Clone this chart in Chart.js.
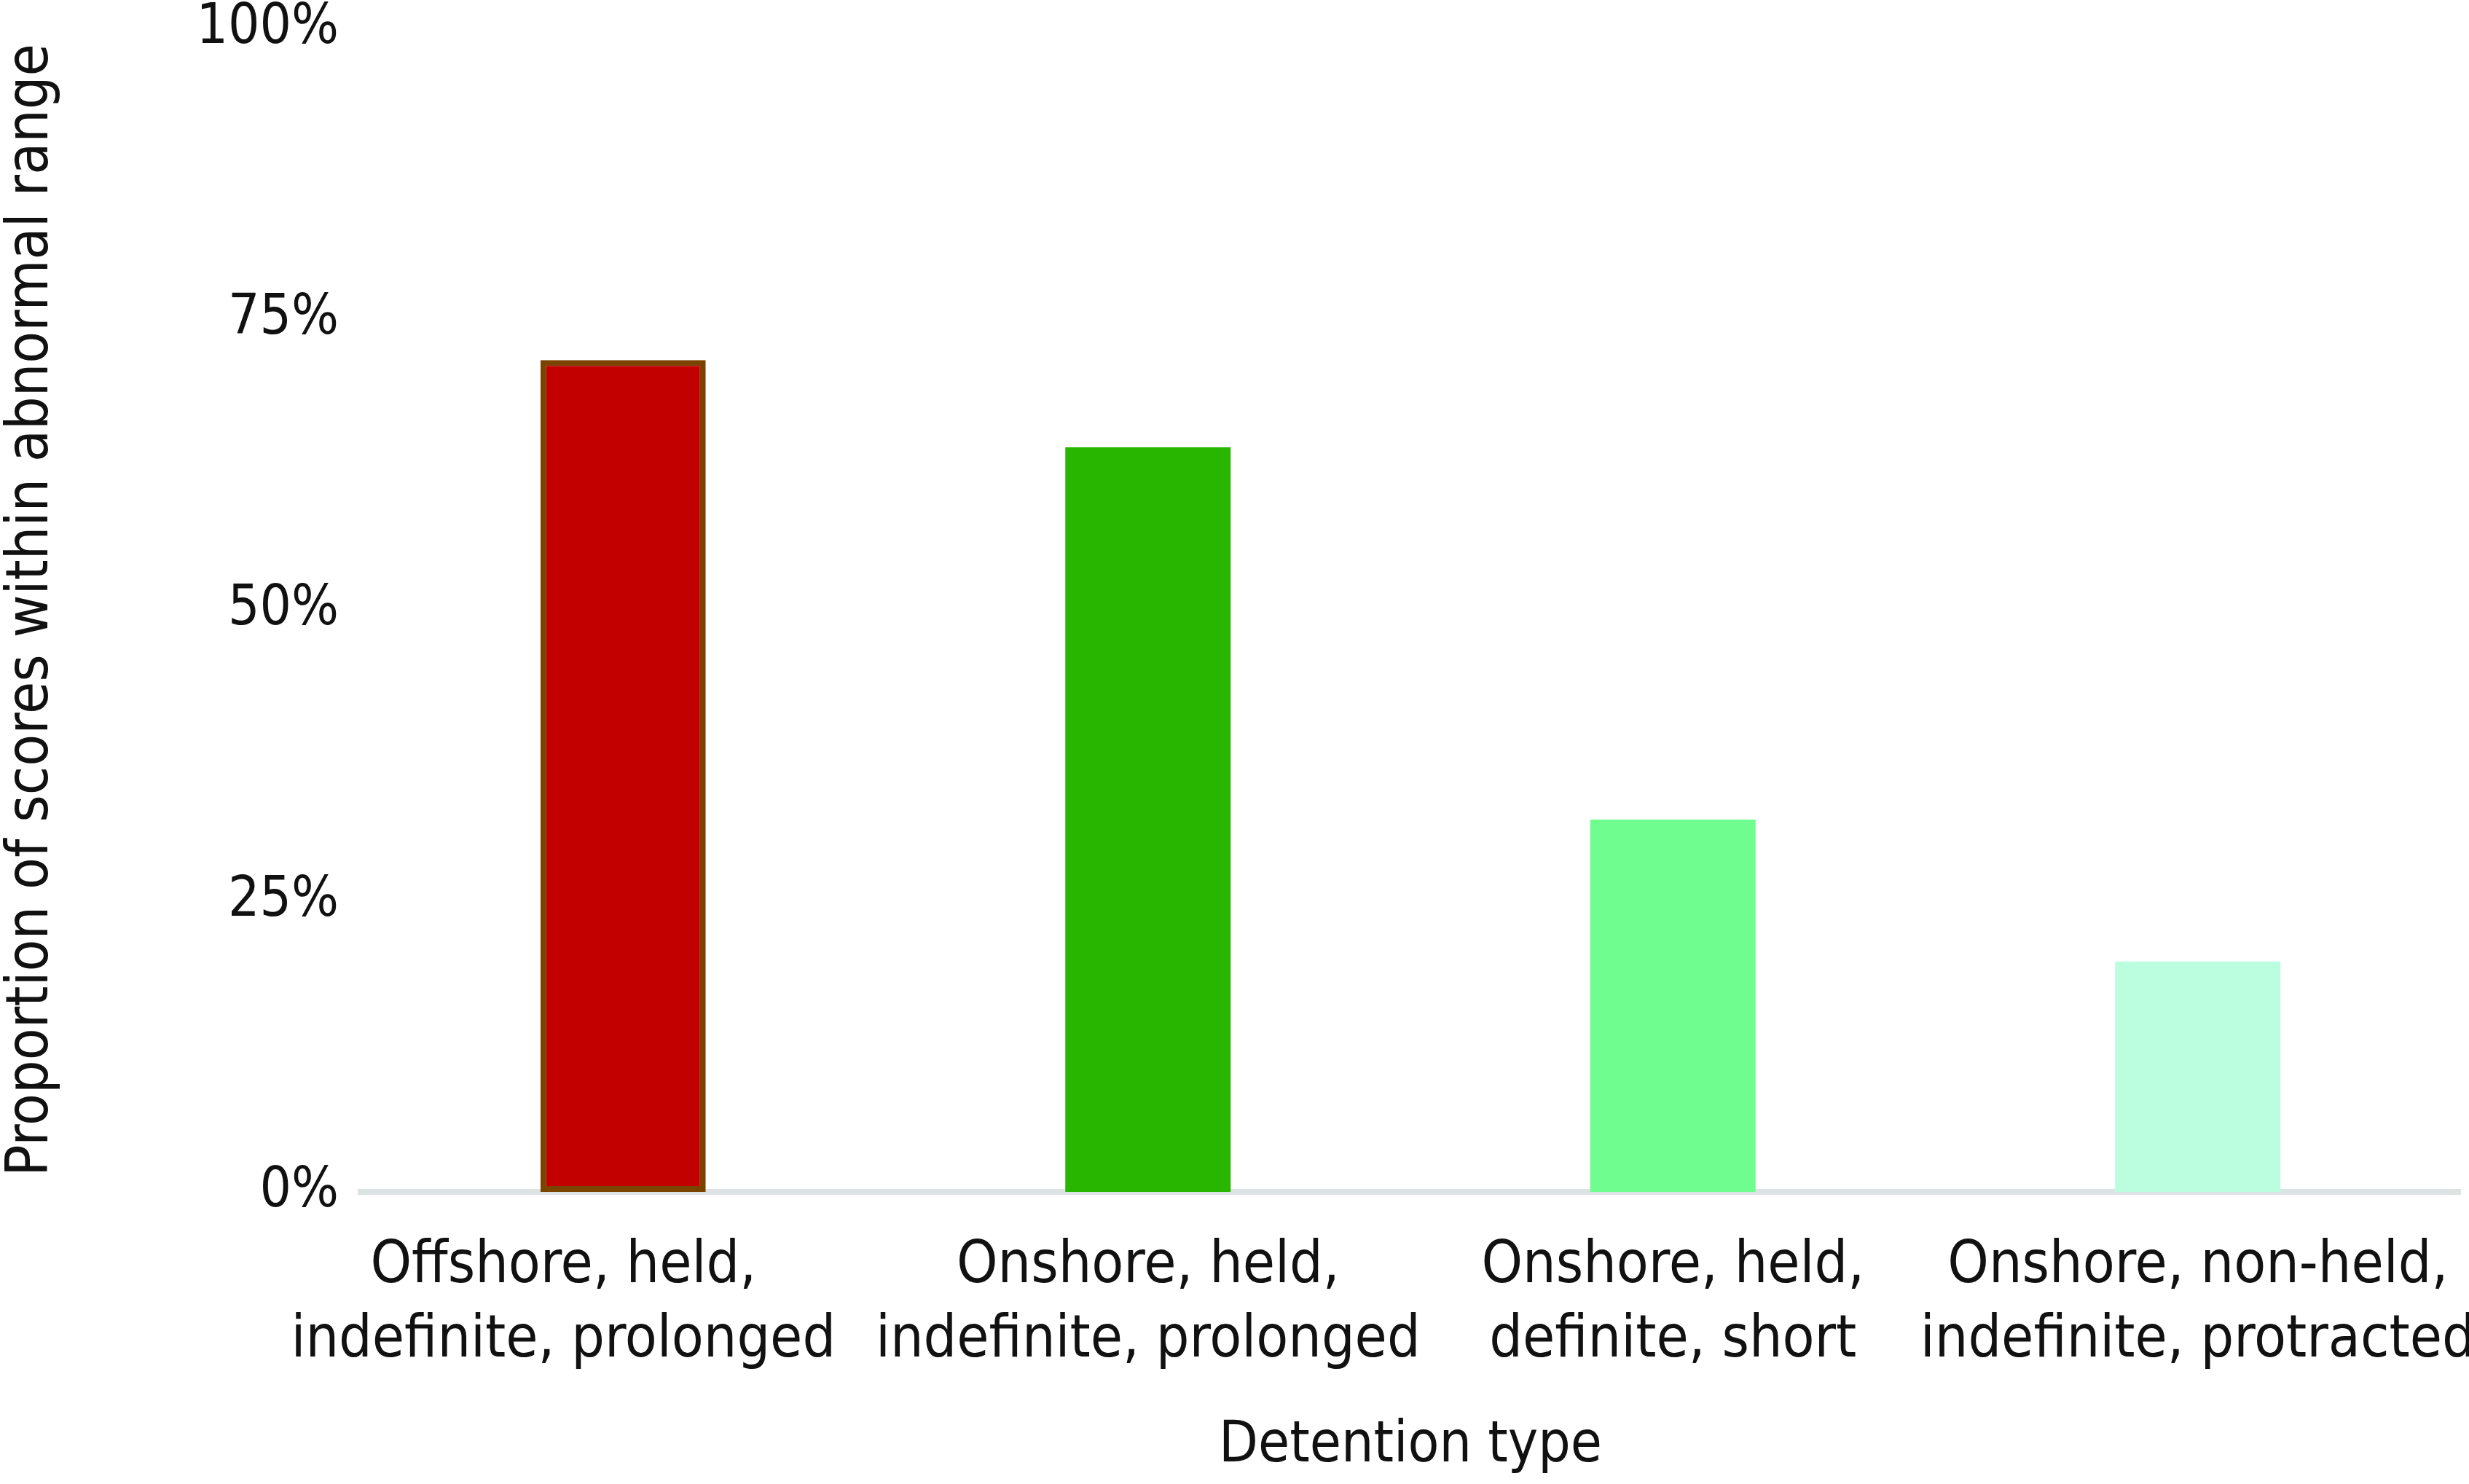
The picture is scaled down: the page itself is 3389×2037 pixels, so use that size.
<!DOCTYPE html>
<html>
<head>
<meta charset="utf-8">
<script src="https://cdn.jsdelivr.net/npm/chart.js@4/dist/chart.umd.min.js"></script>
<style>
  html, body { margin: 0; padding: 0; background: #ffffff; }
  #wrap { width: 3389px; height: 2037px; position: relative; }
</style>
</head>
<body>
<div id="wrap"><canvas id="myChart"></canvas></div>
<script>
// categories (multi-line labels)
var categories = [
    ['Offshore, held,', 'indefinite, prolonged'],
    ['Onshore, held,', 'indefinite, prolonged'],
    ['Onshore, held,', 'definite, short'],
    ['Onshore, non-held,', 'indefinite, protracted']
];
// proportion of scores within abnormal range, percent
var values = [71.5, 64, 32, 19.8];
var yTicks = [0, 25, 50, 75, 100];

var fillColors = ['#c20000', '#29b600', '#6efd8e', '#bbfedf'];
var edgeColors = ['#7b4300', '#29b600', '#6efd8e', '#bbfedf'];
var edgeWidths = [8, 0, 0, 0];

var fontFamily = "'Liberation Sans Narrow', 'DejaVu Sans Condensed', 'Arial Narrow', sans-serif";
var textColor = '#111111';

// first category label sits a bit left of its bar in the original
var firstLabelShift = -82;
var shiftLabels = {
    id: 'shiftLabels',
    beforeDraw: function(chart) {
        var items = chart.scales.x.getLabelItems();
        if (items.length && !items[0]._shifted) {
            items[0].options.translation[0] += firstLabelShift;
            items[0]._shifted = true;
        }
    }
};

var ctx = document.getElementById('myChart').getContext('2d');
var myChart = new Chart(ctx, {
    type: 'bar',
    data: {
        labels: categories,
        datasets: [{
            label: 'Proportion',
            data: values,
            backgroundColor: fillColors,
            borderColor: edgeColors,
            borderWidth: edgeWidths,
            borderSkipped: false,
            barPercentage: 0.315,
            categoryPercentage: 1.0
        }]
    },
    plugins: [shiftLabels],
    options: {
        responsive: true,
        maintainAspectRatio: false,
        animation: false,
        layout: { padding: { top: 0, right: 12, bottom: 0, left: 0 } },
        plugins: {
            legend: { display: false },
            tooltip: { enabled: false }
        },
        scales: {
            x: {
                grid: { display: false, drawTicks: false },
                border: { display: true, color: '#dde2e2', width: 8 },
                ticks: {
                    color: textColor,
                    font: { family: fontFamily, size: 80, lineHeight: 1.28 },
                    padding: 52,
                    maxRotation: 0,
                    autoSkip: false
                },
                title: {
                    display: true,
                    text: 'Detention type',
                    color: textColor,
                    font: { family: fontFamily, size: 78, lineHeight: 1.2 },
                    padding: { top: 0, bottom: 4 }
                },
                afterFit: function(scale) {
                    scale.height = 401;
                    scale.paddingLeft = 0;
                    scale.paddingRight = 0;
                }
            },
            y: {
                min: 0,
                max: 100,
                grid: { display: false, drawTicks: false },
                border: { display: false },
                afterBuildTicks: function(scale) {
                    scale.ticks = yTicks.map(function(v) { return { value: v }; });
                },
                ticks: {
                    color: textColor,
                    font: { family: fontFamily, size: 76, lineHeight: 1.03 },
                    padding: 30,
                    callback: function(v) { return v + '%'; }
                },
                title: {
                    display: true,
                    text: 'Proportion of scores within abnormal range',
                    color: textColor,
                    font: { family: fontFamily, size: 80, lineHeight: 1.0 },
                    padding: { top: 4, bottom: 0 }
                },
                afterFit: function(scale) {
                    scale.width = 495;
                    scale.paddingTop = 39;
                    scale.paddingBottom = 0;
                }
            }
        }
    }
});
</script>
</body>
</html>
